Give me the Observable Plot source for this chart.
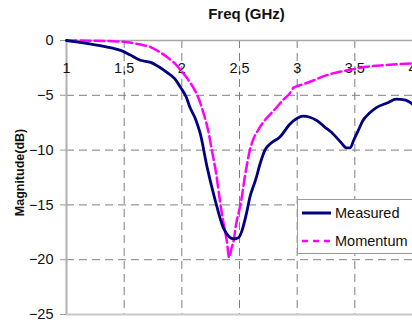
<!DOCTYPE html>
<html>
<head>
<meta charset="utf-8">
<script src="https://cdn.jsdelivr.net/npm/d3@7"></script>
<script src="https://cdn.jsdelivr.net/npm/@observablehq/plot@0.6"></script>
<style>
  html, body { margin: 0; padding: 0; background: #fff; overflow: hidden; }
  #wrap { position: relative; width: 412px; height: 329px; overflow: hidden; font-family: "Liberation Sans", Arial, sans-serif; }
  #legend { position: absolute; left: 297px; top: 199px; }
</style>
</head>
<body>
<div id="wrap"></div>
<script>
// ---- Data ----
const measuredFreq = [1.00, 1.10, 1.20, 1.29, 1.40, 1.47, 1.55, 1.64, 1.73, 1.80, 1.87, 1.94, 1.99, 2.04, 2.07, 2.12, 2.16, 2.22, 2.29, 2.36, 2.41, 2.45, 2.49, 2.52, 2.56, 2.59, 2.64, 2.68, 2.72, 2.77, 2.85, 2.94, 3.00, 3.05, 3.11, 3.17, 3.24, 3.31, 3.38, 3.43, 3.46, 3.49, 3.53, 3.57, 3.63, 3.69, 3.78, 3.86, 3.94, 4.00];
const measuredDb   = [0, -0.15, -0.3, -0.46, -0.7, -0.9, -1.3, -1.8, -2.0, -2.4, -2.9, -3.5, -4.3, -5.2, -6.1, -7.2, -8.5, -11.6, -14.6, -17.1, -17.9, -18.1, -18.0, -17.4, -15.8, -14.3, -12.7, -11.2, -10.0, -9.4, -8.8, -7.6, -7.1, -6.9, -7.0, -7.3, -7.9, -8.5, -9.3, -9.8, -9.8, -9.1, -8.2, -7.3, -6.6, -6.1, -5.7, -5.35, -5.45, -5.8];

const momentumFreq = [1.00, 1.20, 1.40, 1.53, 1.63, 1.73, 1.80, 1.87, 1.93, 1.99, 2.05, 2.10, 2.15, 2.19, 2.23, 2.26, 2.30, 2.33, 2.36, 2.39, 2.41, 2.43, 2.45, 2.47, 2.51, 2.55, 2.59, 2.62, 2.66, 2.71, 2.77, 2.83, 2.88, 2.93, 2.97, 3.05, 3.14, 3.22, 3.31, 3.45, 3.60, 3.75, 3.90, 4.00];
const momentumDb   = [0, -0.02, -0.07, -0.15, -0.35, -0.6, -1.0, -1.5, -2.0, -2.7, -3.5, -4.3, -5.4, -6.7, -8.3, -10.0, -12.3, -14.6, -16.6, -18.3, -19.8, -19.0, -18.2, -16.8, -14.9, -12.2, -10.0, -9.0, -8.2, -7.4, -6.7, -6.0, -5.4, -4.9, -4.3, -4.0, -3.65, -3.3, -3.0, -2.7, -2.4, -2.25, -2.15, -2.1];

const xTicks = [1, 1.5, 2, 2.5, 3, 3.5, 4];
const xTickLabels = ["1", "1,5", "2", "2,5", "3", "3,5", "4"];
const yTicks = [0, -5, -10, -15, -20, -25];
const yGrid = [-5, -10, -15, -20, -25];

const seriesNames = ["Measured", "Momentum"];
const seriesColors = ["#000080", "#ff00ff"];

const measured = measuredFreq.map((f, i) => ({f, db: measuredDb[i]}));
const momentum = momentumFreq.map((f, i) => ({f, db: momentumDb[i]}));
const xLabelRows = xTicks.map((v, i) => ({v, label: xTickLabels[i]}));

const font = "'Liberation Sans', Arial, sans-serif";

const chart = Plot.plot({
  width: 412,
  height: 329,
  marginLeft: 66,
  marginRight: 0,
  marginTop: 40,
  marginBottom: 15,
  x: {domain: [1, 4], axis: null},
  y: {domain: [-25, 0]},
  style: {fontFamily: font, background: "#fff", color: "#111"},
  marks: [
    Plot.gridX(xTicks.slice(1, -1), {stroke: "#7f7f7f", strokeOpacity: 1, strokeWidth: 1, strokeDasharray: "8,5"}),
    Plot.gridY(yGrid, {stroke: "#7f7f7f", strokeOpacity: 1, strokeWidth: 1, strokeDasharray: "8,5"}),
    Plot.ruleY([-25], {stroke: "#c8c8c8", strokeWidth: 2}),
    Plot.ruleY([0], {stroke: "#a8a8a8", strokeWidth: 1.5}),
    Plot.ruleX([1], {stroke: "#b0b0b0", strokeWidth: 2}),
    Plot.axisY(yTicks, {tickSize: 6, tickPadding: 7, fontSize: 14.5, stroke: "#999", fill: "#111", label: null}),
    Plot.text(xLabelRows, {x: "v", text: "label", frameAnchor: "top", lineAnchor: "middle", textAnchor: "middle", dy: 27.5, fontSize: 14.5, fill: "#111"}),
    Plot.text(["Freq (GHz)"], {frameAnchor: "top", lineAnchor: "middle", textAnchor: "middle", dx: 7, dy: -26, fontSize: 15, fontWeight: "bold", fill: "#111"}),
    Plot.text(["Magnitude(dB)"], {frameAnchor: "left", textAnchor: "middle", lineAnchor: "middle", dx: -47, dy: -5, rotate: -90, fontSize: 12.5, fontWeight: "bold", fill: "#111"}),
    Plot.line(momentum, {x: "f", y: "db", stroke: seriesColors[1], strokeWidth: 2.5, strokeDasharray: "10,4", curve: "monotone-x"}),
    Plot.line(measured, {x: "f", y: "db", stroke: seriesColors[0], strokeWidth: 2.8, curve: "monotone-x"})
  ]
});

const wrap = document.getElementById("wrap");
wrap.appendChild(chart);

// Legend (inside the plot area, lower right)
const ns = "http://www.w3.org/2000/svg";
const leg = document.createElementNS(ns, "svg");
leg.setAttribute("id", "legend");
leg.setAttribute("width", "130");
leg.setAttribute("height", "56");
let html = `<rect x="0.5" y="0.5" width="140" height="54" fill="#fff" stroke="#9a9a9a" stroke-width="1"/>`;
seriesNames.forEach((name, i) => {
  const y = 14 + i * 28;
  const dash = i === 1 ? ` stroke-dasharray="6,5"` : "";
  html += `<line x1="5" x2="34" y1="${y}" y2="${y}" stroke="${seriesColors[i]}" stroke-width="${i === 0 ? 3 : 2.5}"${dash}/>`;
  html += `<text x="38" y="${y}" dy="0.36em" font-family="${font.replace(/'/g, "")}" font-size="14.5" fill="#111">${name}</text>`;
});
leg.innerHTML = html;
wrap.appendChild(leg);
</script>
</body>
</html>
